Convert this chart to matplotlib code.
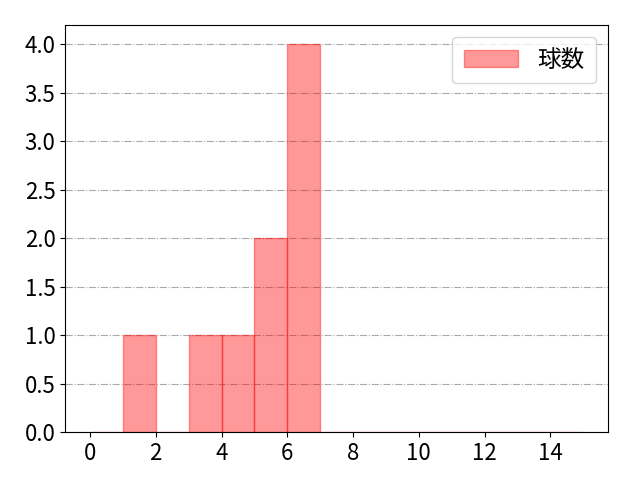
import matplotlib.pyplot as plt
import numpy as np

plt.rcParams['font.family'] = ['Noto Sans CJK JP', 'DejaVu Sans']

# pitch counts per appearance
pitches = [1, 3, 4, 5, 5, 6, 6, 6, 6]
bins = list(range(0, 16))

fig, ax = plt.subplots(figsize=(6.4, 4.8), dpi=100)
ax.hist(pitches, bins=bins, color='red', alpha=0.4, edgecolor='red', linewidth=1, label='球数')
ax.grid(axis='y', linestyle='-.', color='#aaaaaa')
ax.set_axisbelow(True)
ax.set_xticks(range(0, 16, 2))
ax.tick_params(labelsize=16)
ax.legend(fontsize=17, loc='upper right', borderpad=0.5, handlelength=2.3)
fig.subplots_adjust(left=0.102, right=0.95, top=0.948, bottom=0.1)
fig.savefig('out.png')
